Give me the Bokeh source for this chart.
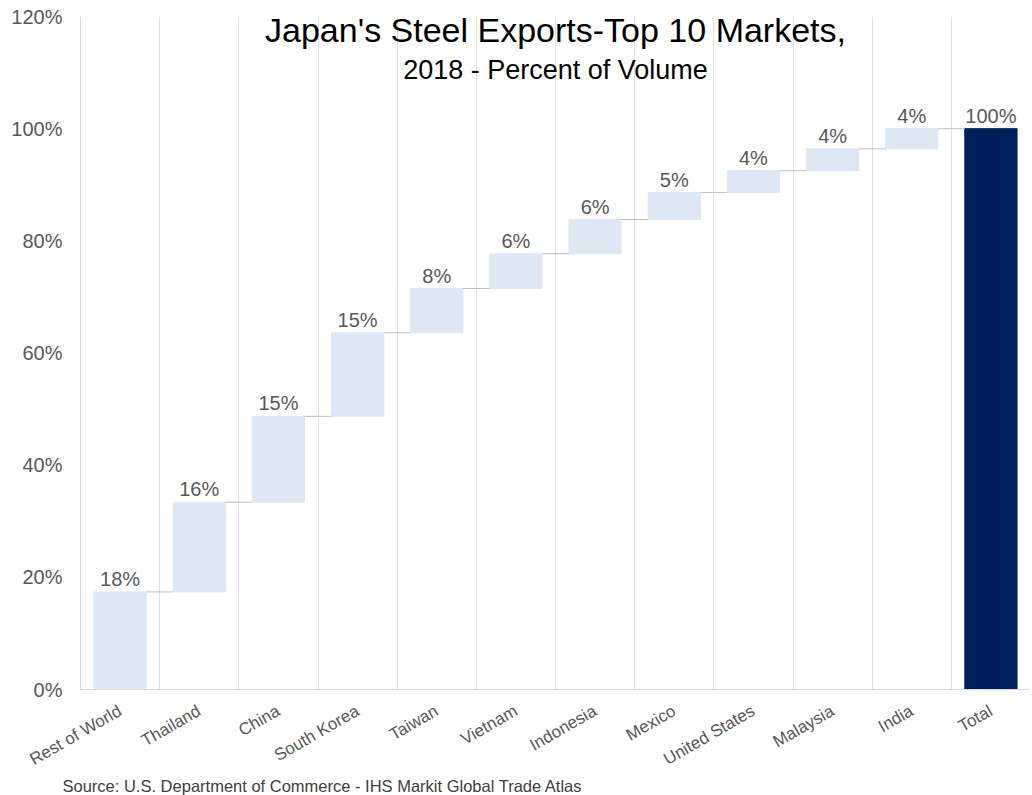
from bokeh.plotting import figure
from bokeh.models import FixedTicker, Label, ColumnDataSource, NumeralTickFormatter, Title
from bokeh.core.properties import value
from bokeh.embed import file_html
from bokeh.resources import INLINE
import math

categories = ["Rest of World", "Thailand", "China", "South Korea", "Taiwan", "Vietnam",
              "Indonesia", "Mexico", "United States", "Malaysia", "India", "Total"]
shares = [17.4, 16.0, 15.3, 14.9, 7.9, 6.2, 6.1, 4.8, 3.9, 3.9, 3.6]
labels = ["18%", "16%", "15%", "15%", "8%", "6%", "6%", "5%", "4%", "4%", "4%", "100%"]
total = 100.0
y_ticks = [0, 20, 40, 60, 80, 100, 120]

FONT = "Liberation Sans"
GRAY = "#595959"

bottoms, tops = [], []
run = 0.0
for s in shares:
    bottoms.append(run)
    run += s
    tops.append(run)
bottoms.append(0.0)
tops.append(total)

xs = list(range(len(categories)))
colors = ["#dde8f4"] * len(shares) + ["#00205b"]

src = ColumnDataSource(dict(x=xs, bottom=bottoms, top=tops, color=colors, label=labels))

p = figure(width=1030, height=795, output_backend="svg", toolbar_location=None,
           x_range=(-0.5, len(categories) - 0.5), y_range=(0, 120),
           min_border_left=80, min_border_right=0, min_border_top=16, min_border_bottom=106)
p.outline_line_color = None
p.background_fill_color = "white"

p.ygrid.grid_line_color = None
p.xgrid.ticker = FixedTicker(ticks=[i + 0.5 for i in range(-1, len(categories))])
p.xgrid.grid_line_color = "#e1e1e1"
p.xgrid.grid_line_width = 1

BW = 0.66
p.vbar(x="x", bottom="bottom", top="top", width=BW, color="color", source=src)

# connectors
cx0 = [i + BW / 2 for i in range(len(categories) - 1)]
cx1 = [i + 1 - BW / 2 for i in range(len(categories) - 1)]
cy = tops[:-1]
p.segment(x0=cx0, x1=cx1, y0=cy, y1=cy, line_color="#c0c0c0", line_width=1)

p.text(x="x", y="top", text="label", source=src, text_align="center", text_baseline="bottom",
       y_offset=-2, text_font_size="20px", text_color=GRAY, text_font=value(FONT))

p.yaxis.ticker = FixedTicker(ticks=y_ticks)
p.yaxis.formatter = NumeralTickFormatter(format="0")
p.yaxis.major_label_overrides = {t: f"{t}%" for t in y_ticks}
p.xaxis.ticker = FixedTicker(ticks=xs)
p.xaxis.major_label_overrides = {i: c for i, c in enumerate(categories)}
p.xaxis.major_label_orientation = math.pi / 6
for ax in (p.xaxis, p.yaxis):
    ax.major_tick_line_color = None
    ax.minor_tick_line_color = None
    ax.major_tick_out = 0
    ax.major_tick_in = 0
    ax.axis_line_color = "#d9d9d9"
    ax.major_label_text_color = GRAY
    ax.major_label_text_font = FONT
p.yaxis.major_label_text_font_size = "20px"
p.xaxis.major_label_text_font_size = "17px"
p.xaxis.major_label_standoff = 20
p.yaxis.major_label_standoff = 18

p.add_layout(Label(x=5.5, y=117.6, text="Japan's Steel Exports-Top 10 Markets,",
                   text_align="center", text_baseline="middle", text_font_size="34px",
                   text_font=FONT, text_color="#000000"))
p.add_layout(Label(x=5.5, y=110.5, text="2018 - Percent of Volume",
                   text_align="center", text_baseline="middle", text_font_size="27px",
                   text_font=FONT, text_color="#000000"))
p.add_layout(Title(text="Source:  U.S. Department  of Commerce  - IHS Markit Global Trade  Atlas",
                   align="left", offset=-18, text_font_size="16.5px", text_font=FONT,
                   text_color="#404040", text_font_style="normal", standoff=-12), "below")

open("out.html", "w").write(file_html(p, INLINE))
